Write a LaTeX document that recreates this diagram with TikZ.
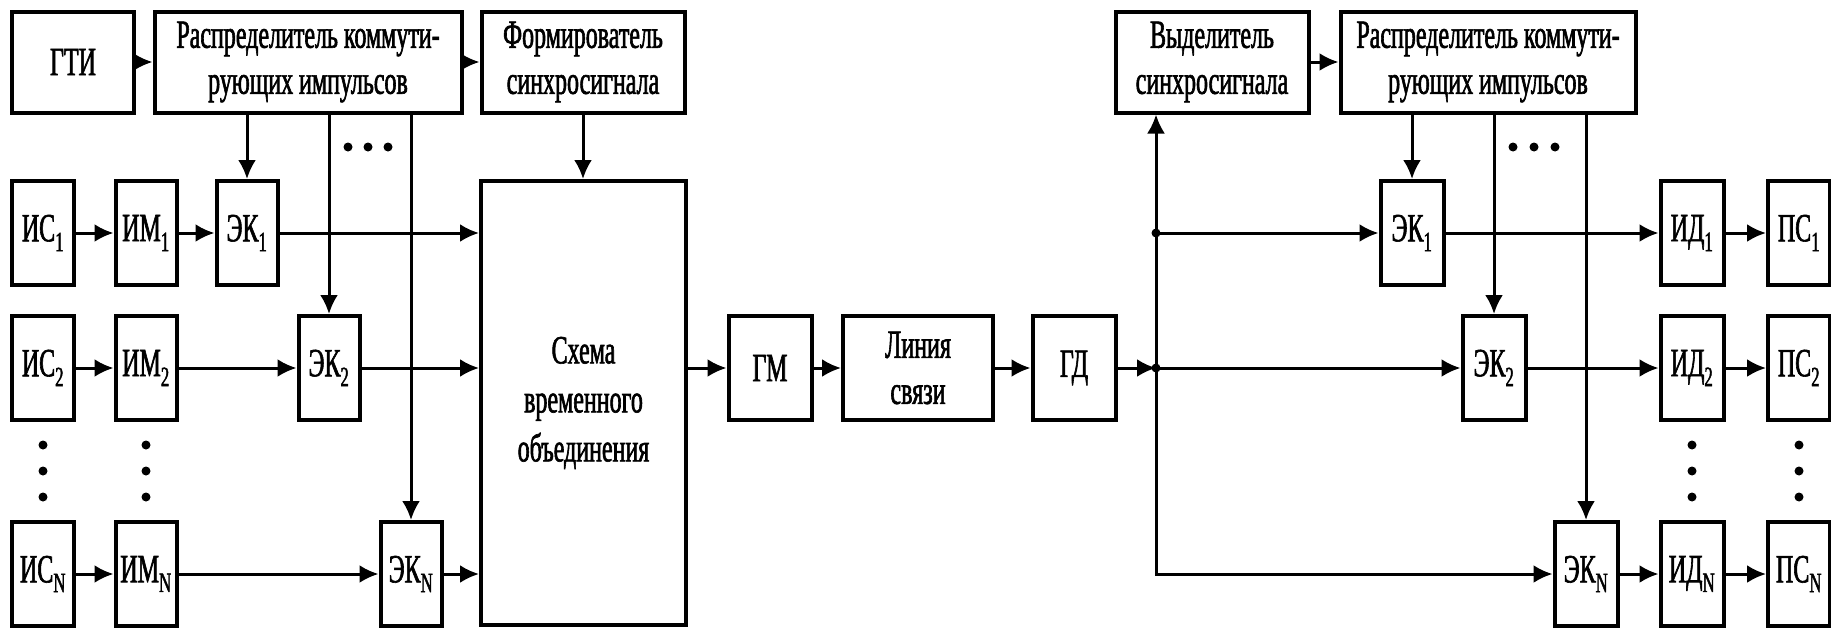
\documentclass[tikz,border=0pt]{standalone}
\usepackage{fontspec}
\setmainfont{Liberation Serif}[FakeStretch=0.6, FakeBold=1.5]
\usetikzlibrary{arrows.meta}

\begin{document}
\begin{tikzpicture}[x=1pt, y=-1pt,
	font=\fontsize{40}{46}\selectfont,
	box/.style={draw, rectangle, line width=4pt, inner sep=0pt, minimum height=104pt, align=center},
	link/.style={line width=3pt},
	>={Latex[length=19pt, width=18pt]}]
	\def \rowa {233}
	\def \rowb {368}
	\def \rown {574}
	\def \junction {1156}

	\useasboundingbox (0,0) rectangle (1831,627);

	% transmitter side
	\node[box, minimum width=122pt, minimum height=101pt] (generator) at (73,62) {ГТИ};
	\node[box, minimum width=307pt, minimum height=101pt] (leftdist)  at (308,62)
		{Распределитель коммути-\\рующих импульсов};
	\node[box, minimum width=203pt, minimum height=101pt] (shaper)    at (583,62)
		{Формирователь\\синхросигнала};

	\node[box, minimum width=62pt] (source1)    at (43,\rowa)  {ИС\textsubscript{1}};
	\node[box, minimum width=62pt] (source2)    at (43,\rowb)  {ИС\textsubscript{2}};
	\node[box, minimum width=62pt] (sourcen)    at (43,\rown)  {ИС\textsubscript{N}};
	\node[box, minimum width=61pt] (modulator1) at (146,\rowa) {ИМ\textsubscript{1}};
	\node[box, minimum width=61pt] (modulator2) at (146,\rowb) {ИМ\textsubscript{2}};
	\node[box, minimum width=61pt] (modulatorn) at (146,\rown) {ИМ\textsubscript{N}};
	\node[box, minimum width=61pt] (key1)       at (247,\rowa) {ЭК\textsubscript{1}};
	\node[box, minimum width=61pt] (key2)       at (329,\rowb) {ЭК\textsubscript{2}};
	\node[box, minimum width=61pt] (keyn)       at (411,\rown) {ЭК\textsubscript{N}};

	\node[box, minimum width=205pt, minimum height=444pt,
		font=\fontsize{40}{49}\selectfont] (merger) at (583.5,403)
		{Схема\\временного\\объединения};

	% channel
	\node[box, minimum width=83pt]  (modem)  at (770,\rowb)  {ГМ};
	\node[box, minimum width=150pt] (line)   at (918,\rowb)  {Линия\\связи};
	\node[box, minimum width=83pt]  (demod)  at (1074,\rowb) {ГД};

	% receiver side
	\node[box, minimum width=193pt, minimum height=101pt] (extractor) at (1212,62)
		{Выделитель\\синхросигнала};
	\node[box, minimum width=295pt, minimum height=101pt] (rightdist) at (1488,62)
		{Распределитель коммути-\\рующих импульсов};

	\node[box, minimum width=63pt] (rkey1)     at (1412,\rowa) {ЭК\textsubscript{1}};
	\node[box, minimum width=63pt] (rkey2)     at (1494,\rowb) {ЭК\textsubscript{2}};
	\node[box, minimum width=63pt] (rkeyn)     at (1586,\rown) {ЭК\textsubscript{N}};
	\node[box, minimum width=63pt] (detector1) at (1692,\rowa) {ИД\textsubscript{1}};
	\node[box, minimum width=63pt] (detector2) at (1692,\rowb) {ИД\textsubscript{2}};
	\node[box, minimum width=63pt] (detectorn) at (1692,\rown) {ИД\textsubscript{N}};
	\node[box, minimum width=62pt] (receiver1) at (1799,\rowa) {ПС\textsubscript{1}};
	\node[box, minimum width=62pt] (receiver2) at (1799,\rowb) {ПС\textsubscript{2}};
	\node[box, minimum width=62pt] (receivern) at (1799,\rown) {ПС\textsubscript{N}};

	\coordinate (fork1) at (\junction,\rowa);
	\coordinate (fork2) at (\junction,\rowb);
	\coordinate (forkn) at (\junction,\rown);

	% transmitter connectors
	\draw[link, ->] (generator) -- (leftdist);
	\draw[link, ->] (leftdist) -- (shaper);
	\draw[link, ->] (shaper.south) -- (shaper.south |- merger.north);
	\draw[link, ->] (key1 |- leftdist.south) -- (key1);
	\draw[link, ->] (key2 |- leftdist.south) -- (key2);
	\draw[link, ->] (keyn |- leftdist.south) -- (keyn);

	\draw[link, ->] (source1) -- (modulator1);
	\draw[link, ->] (modulator1) -- (key1);
	\draw[link, ->] (key1) -- (key1 -| merger.west);
	\draw[link, ->] (source2) -- (modulator2);
	\draw[link, ->] (modulator2) -- (key2);
	\draw[link, ->] (key2) -- (key2 -| merger.west);
	\draw[link, ->] (sourcen) -- (modulatorn);
	\draw[link, ->] (modulatorn) -- (keyn);
	\draw[link, ->] (keyn) -- (keyn -| merger.west);

	% channel connectors
	\draw[link, ->] (merger.east |- modem) -- (modem);
	\draw[link, ->] (modem) -- (line);
	\draw[link, ->] (line) -- (demod);
	\draw[link, ->] (demod) -- (fork2);

	% receiver connectors
	\draw[link, <->] (forkn |- extractor.south) -- (forkn) -- (rkeyn);
	\draw[link, ->] (fork1) -- (rkey1);
	\draw[link, ->] (fork2) -- (rkey2);
	\fill (fork1) circle (4.5pt);
	\fill (fork2) circle (4.5pt);
	\draw[link, ->] (extractor) -- (rightdist);
	\draw[link, ->] (rkey1 |- rightdist.south) -- (rkey1);
	\draw[link, ->] (rkey2 |- rightdist.south) -- (rkey2);
	\draw[link, ->] (rkeyn |- rightdist.south) -- (rkeyn);

	\draw[link, ->] (rkey1) -- (detector1);
	\draw[link, ->] (detector1) -- (receiver1);
	\draw[link, ->] (rkey2) -- (detector2);
	\draw[link, ->] (detector2) -- (receiver2);
	\draw[link, ->] (rkeyn) -- (detectorn);
	\draw[link, ->] (detectorn) -- (receivern);

	% ellipses
	\fill (348,147) circle (4.5pt) (368,147) circle (4.5pt) (388,147) circle (4.5pt);
	\fill (1513,147) circle (4.5pt) (1534,147) circle (4.5pt) (1555,147) circle (4.5pt);
	\fill (43,445) circle (4.5pt) (43,471) circle (4.5pt) (43,497) circle (4.5pt);
	\fill (146,445) circle (4.5pt) (146,471) circle (4.5pt) (146,497) circle (4.5pt);
	\fill (1692,445) circle (4.5pt) (1692,471) circle (4.5pt) (1692,497) circle (4.5pt);
	\fill (1799,445) circle (4.5pt) (1799,471) circle (4.5pt) (1799,497) circle (4.5pt);
\end{tikzpicture}
\end{document}
